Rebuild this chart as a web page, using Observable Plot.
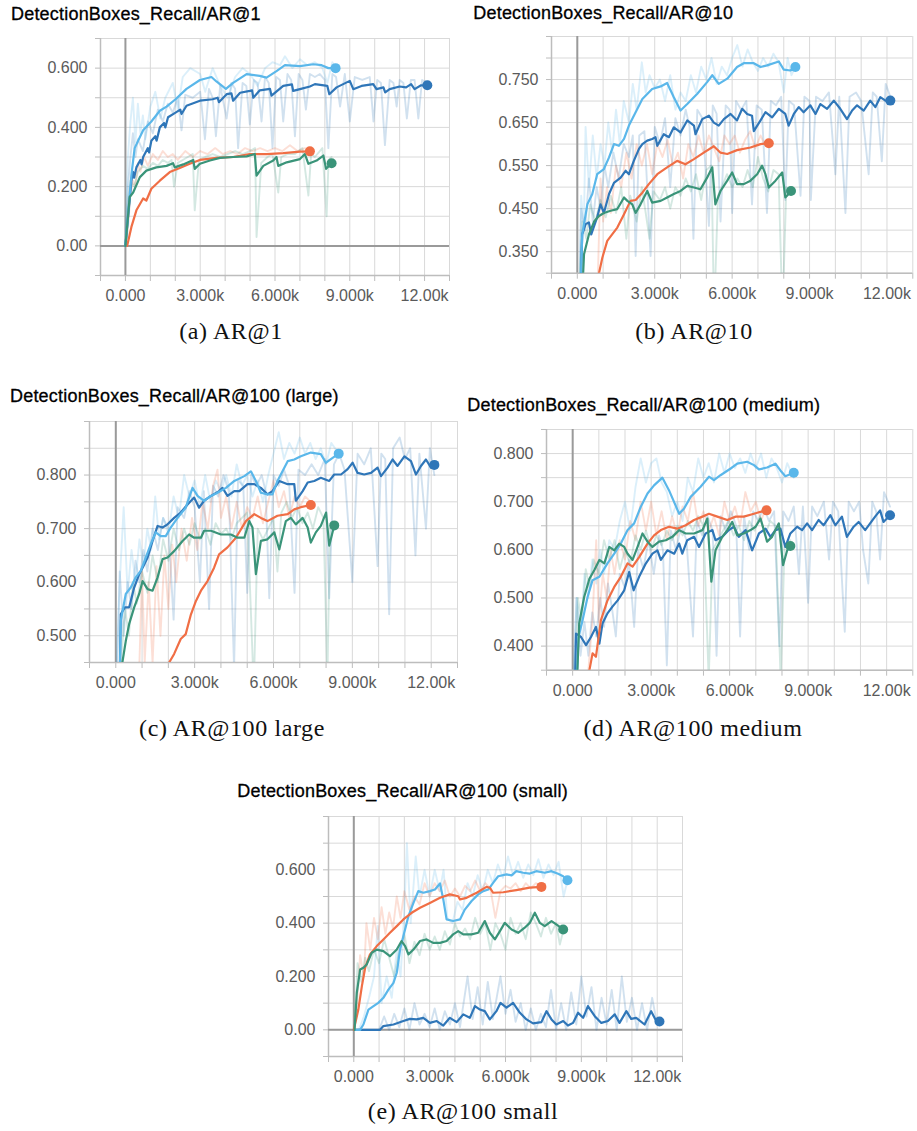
<!DOCTYPE html>
<html><head><meta charset="utf-8">
<script src="https://cdn.jsdelivr.net/npm/d3@7"></script>
<script src="https://cdn.jsdelivr.net/npm/@observablehq/plot@0.6"></script>
<style>
html,body{margin:0;padding:0;background:#fff}
body{width:917px;height:1131px;position:relative;overflow:hidden}
.title{position:absolute;font-family:"Liberation Sans",Arial,sans-serif;font-size:18px;letter-spacing:0.2px;color:#000;-webkit-text-stroke:0.3px #000;white-space:nowrap;line-height:18px}
.cap{position:absolute;font-family:"Liberation Serif","Times New Roman",serif;font-size:24px;letter-spacing:0.6px;color:#111;white-space:nowrap;line-height:24px;transform:translateX(-50%)}
</style></head><body>
<script>
// ---------- colours (one per run) ----------
const LIGHT = "#5ab7ea", DARK = "#2f76b8", ORANGE = "#f06e45", GREEN = "#3a9479";

// ---------- axes (x in thousands of steps) ----------
const xGrid = [-1,0,1,2,3,4,5,6,7,8,9,10,11,12,13];
const xLabelTicks = [0,3,6,9,12];
const xLabels = ["0.000","3.000k","6.000k","9.000k","12.00k"];

const aGrid = [-0.1,0,0.1,0.2,0.3,0.4,0.5,0.6,0.7];
const aYTicks = [0,0.2,0.4,0.6];
const aYLabels = ["0.00","0.200","0.400","0.600"];
const bGrid = [0.3,0.35,0.4,0.45,0.5,0.55,0.6,0.65,0.7,0.75,0.8,0.85];
const bYTicks = [0.35,0.45,0.55,0.65,0.75];
const bYLabels = ["0.350","0.450","0.550","0.650","0.750"];
const cGrid = [0.45,0.5,0.55,0.6,0.65,0.7,0.75,0.8,0.85,0.9];
const cYTicks = [0.5,0.6,0.7,0.8];
const cYLabels = ["0.500","0.600","0.700","0.800"];
const dGrid = [0.35,0.4,0.45,0.5,0.55,0.6,0.65,0.7,0.75,0.8,0.85];
const dYTicks = [0.4,0.5,0.6,0.7,0.8];
const dYLabels = ["0.400","0.500","0.600","0.700","0.800"];
const eGrid = [-0.1,0,0.1,0.2,0.3,0.4,0.5,0.6,0.7,0.8];
const eYTicks = [0,0.2,0.4,0.6];
const eYLabels = ["0.00","0.200","0.400","0.600"];

// ---------- (a) AR@1 ----------
const aLightSmooth = [[0,0],[0.24,0.24],[0.37,0.33],[0.71,0.39],[1.04,0.42],[1.38,0.456],[1.65,0.47],[2.01,0.495],[2.45,0.53],[2.99,0.56],[3.45,0.57],[3.65,0.555],[4.03,0.53],[4.32,0.55],[4.86,0.58],[5.39,0.574],[5.66,0.568],[6.06,0.59],[6.4,0.61],[7.0,0.607],[7.54,0.613],[7.87,0.61],[8.14,0.6],[8.43,0.6]];
const aDarkSmooth = [[0,0],[0.24,0.22],[0.3,0.25],[0.35,0.23],[0.44,0.265],[0.6,0.29],[0.65,0.275],[0.71,0.3],[0.9,0.33],[0.95,0.315],[1.04,0.355],[1.2,0.37],[1.25,0.355],[1.38,0.4],[1.55,0.415],[1.6,0.4],[1.71,0.434],[2.01,0.45],[2.2,0.46],[2.25,0.445],[2.45,0.473],[2.99,0.49],[3.5,0.495],[3.7,0.5],[3.75,0.485],[4.06,0.512],[4.25,0.515],[4.32,0.49],[4.6,0.517],[4.99,0.523],[5.08,0.525],[5.13,0.5],[5.39,0.525],[5.8,0.53],[5.86,0.507],[6.33,0.54],[6.68,0.545],[6.73,0.523],[7.0,0.529],[7.4,0.538],[7.6,0.546],[8.1,0.54],[8.18,0.512],[8.47,0.535],[9.0,0.557],[9.14,0.529],[9.47,0.54],[9.94,0.546],[10.07,0.529],[10.35,0.535],[10.42,0.518],[10.6,0.529],[11.0,0.538],[11.26,0.535],[11.46,0.546],[11.6,0.529],[11.86,0.542],[12.11,0.542]];
const aOrangeSmooth = [[0.07,0],[0.24,0.064],[0.44,0.12],[0.71,0.16],[0.84,0.153],[1.04,0.193],[1.38,0.22],[1.78,0.249],[2.18,0.263],[2.58,0.277],[2.99,0.29],[3.65,0.297],[4.32,0.3],[4.99,0.31],[5.66,0.31],[6.33,0.313],[7.0,0.318],[7.4,0.319]];
const aGreenSmooth = [[0,0],[0.17,0.165],[0.31,0.18],[0.58,0.232],[0.84,0.254],[1.24,0.265],[1.65,0.27],[1.91,0.279],[1.98,0.265],[2.32,0.275],[2.72,0.29],[2.78,0.26],[2.99,0.277],[3.39,0.288],[3.79,0.297],[4.32,0.3],[4.86,0.302],[5.19,0.31],[5.26,0.237],[5.53,0.27],[5.93,0.288],[6.06,0.3],[6.13,0.27],[6.47,0.282],[7.0,0.293],[7.2,0.31],[7.34,0.277],[7.67,0.288],[7.94,0.305],[8.05,0.26],[8.27,0.279]];
const aLightRaw = [[0,0],[0.1,0.3],[0.2,0.42],[0.3,0.5],[0.4,0.35],[0.5,0.48],[0.6,0.38],[0.7,0.44],[0.8,0.36],[1.0,0.47],[1.2,0.52],[1.4,0.43],[1.6,0.5],[1.9,0.55],[2.1,0.46],[2.3,0.57],[2.6,0.6],[3.0,0.58],[3.2,0.52],[3.5,0.6],[3.8,0.54],[4.1,0.5],[4.4,0.57],[4.7,0.6],[5.0,0.58],[5.3,0.54],[5.6,0.6],[5.9,0.62],[6.2,0.61],[6.4,0.64],[6.7,0.6],[7.0,0.63],[7.3,0.61],[7.6,0.62],[7.9,0.6],[8.1,0.55],[8.3,0.62],[8.43,0.6]];
const aDarkRaw = [[0,0],[0.1,0.2],[0.2,0.3],[0.3,0.38],[0.4,0.3],[0.5,0.36],[0.7,0.32],[0.9,0.42],[1.1,0.38],[1.3,0.46],[1.5,0.42],[1.7,0.48],[1.9,0.45],[2.1,0.5],[2.25,0.39],[2.4,0.51],[2.7,0.5],[3.0,0.52],[3.19,0.36],[3.35,0.53],[3.5,0.5],[3.63,0.37],[3.8,0.54],[4.06,0.43],[4.25,0.55],[4.4,0.53],[4.52,0.33],[4.7,0.55],[4.85,0.54],[4.99,0.41],[5.15,0.56],[5.3,0.55],[5.46,0.42],[5.6,0.57],[5.75,0.55],[5.9,0.33],[6.05,0.57],[6.2,0.56],[6.33,0.42],[6.5,0.58],[6.65,0.56],[6.8,0.37],[6.95,0.58],[7.1,0.56],[7.24,0.46],[7.4,0.58],[7.6,0.57],[7.8,0.58],[8.0,0.56],[8.14,0.33],[8.3,0.58],[8.45,0.57],[8.61,0.47],[8.8,0.58],[9.0,0.42],[9.2,0.57],[9.5,0.56],[9.8,0.57],[9.95,0.42],[10.1,0.56],[10.25,0.55],[10.41,0.34],[10.6,0.56],[10.75,0.55],[10.88,0.47],[11.0,0.56],[11.15,0.55],[11.29,0.43],[11.45,0.56],[11.6,0.56],[11.75,0.43],[11.9,0.56],[12.11,0.55]];
const aOrangeRaw = [[0.05,0],[0.2,0.17],[0.3,0.22],[0.4,0.2],[0.5,0.28],[0.6,0.25],[0.75,0.3],[0.9,0.27],[1.1,0.31],[1.3,0.29],[1.5,0.32],[1.7,0.3],[1.9,0.31],[2.1,0.29],[2.4,0.32],[2.7,0.3],[3.0,0.32],[3.3,0.31],[3.6,0.33],[3.9,0.31],[4.2,0.32],[4.5,0.31],[4.8,0.33],[5.1,0.32],[5.4,0.33],[5.7,0.32],[6.0,0.33],[6.3,0.32],[6.6,0.34],[6.9,0.32],[7.2,0.33],[7.4,0.32]];
const aGreenRaw = [[0,0],[0.1,0.15],[0.2,0.22],[0.35,0.2],[0.5,0.25],[0.7,0.27],[0.9,0.26],[1.1,0.28],[1.3,0.27],[1.5,0.29],[1.7,0.28],[1.85,0.29],[1.95,0.2],[2.1,0.28],[2.3,0.29],[2.5,0.3],[2.7,0.31],[2.78,0.12],[2.95,0.29],[3.2,0.3],[3.5,0.31],[3.8,0.3],[4.1,0.31],[4.4,0.32],[4.7,0.31],[5.0,0.32],[5.2,0.33],[5.26,0.03],[5.45,0.28],[5.7,0.3],[5.9,0.31],[6.13,0.18],[6.25,0.3],[6.5,0.31],[6.8,0.31],[7.1,0.33],[7.34,0.17],[7.45,0.31],[7.6,0.3],[7.9,0.33],[8.07,0.1],[8.15,0.29],[8.27,0.3]];

// ---------- (b) AR@10 ----------
const bLightSmooth = [[0,0],[0.19,0.39],[0.39,0.46],[0.58,0.484],[0.77,0.53],[1.03,0.542],[1.23,0.569],[1.42,0.6],[1.61,0.596],[1.81,0.612],[2.0,0.643],[2.26,0.674],[2.52,0.705],[2.9,0.728],[3.23,0.734],[3.48,0.742],[3.74,0.709],[4.0,0.678],[4.26,0.693],[4.65,0.717],[5.03,0.744],[5.23,0.76],[5.48,0.74],[5.81,0.752],[6.19,0.779],[6.45,0.788],[6.84,0.788],[7.1,0.779],[7.35,0.783],[7.81,0.792],[8.0,0.773],[8.26,0.771],[8.45,0.779]];
const bDarkSmooth = [[0,0],[0.19,0.39],[0.32,0.414],[0.45,0.418],[0.54,0.39],[0.77,0.43],[0.9,0.46],[1.03,0.44],[1.23,0.484],[1.42,0.51],[1.68,0.522],[1.87,0.538],[2.0,0.53],[2.19,0.561],[2.39,0.589],[2.52,0.6],[2.71,0.608],[2.9,0.612],[3.03,0.616],[3.1,0.596],[3.35,0.623],[3.55,0.616],[3.74,0.639],[4.0,0.627],[4.26,0.655],[4.52,0.643],[4.58,0.623],[4.84,0.658],[5.1,0.666],[5.29,0.65],[5.48,0.643],[5.68,0.658],[5.94,0.67],[6.19,0.655],[6.39,0.682],[6.58,0.67],[6.77,0.666],[6.84,0.63],[7.1,0.655],[7.29,0.674],[7.55,0.662],[7.81,0.682],[8.06,0.67],[8.19,0.643],[8.39,0.67],[8.58,0.686],[8.77,0.674],[9.03,0.69],[9.23,0.67],[9.42,0.693],[9.68,0.682],[9.94,0.701],[10.19,0.682],[10.45,0.658],[10.65,0.678],[10.84,0.69],[11.1,0.678],[11.35,0.701],[11.55,0.686],[11.74,0.709],[11.94,0.701],[12.13,0.701]];
const bOrangeSmooth = [[0.7,0.27],[0.84,0.3],[0.97,0.336],[1.16,0.375],[1.35,0.39],[1.55,0.406],[1.81,0.437],[2.06,0.468],[2.26,0.47],[2.52,0.487],[2.77,0.507],[3.1,0.53],[3.48,0.546],[3.87,0.561],[4.19,0.553],[4.52,0.565],[4.9,0.58],[5.29,0.595],[5.55,0.58],[5.81,0.577],[6.19,0.586],[6.71,0.592],[7.1,0.6],[7.42,0.602]];
const bGreenSmooth = [[0,0],[0.26,0.344],[0.45,0.39],[0.65,0.42],[0.84,0.433],[1.03,0.44],[1.29,0.445],[1.55,0.449],[1.81,0.476],[1.94,0.468],[2.13,0.46],[2.26,0.44],[2.45,0.46],[2.71,0.491],[2.9,0.464],[3.23,0.468],[3.48,0.476],[3.74,0.484],[4.0,0.491],[4.26,0.503],[4.52,0.499],[4.77,0.495],[5.03,0.522],[5.23,0.546],[5.35,0.46],[5.55,0.491],[5.81,0.515],[6.0,0.534],[6.19,0.507],[6.45,0.507],[6.71,0.515],[6.97,0.53],[7.16,0.55],[7.29,0.53],[7.42,0.499],[7.68,0.515],[7.94,0.534],[8.06,0.476],[8.19,0.484],[8.28,0.491]];
const bLightRaw = [[0,0],[0.15,0.48],[0.25,0.4],[0.32,0.64],[0.45,0.5],[0.6,0.62],[0.75,0.52],[0.9,0.6],[1.05,0.55],[1.2,0.65],[1.35,0.58],[1.5,0.68],[1.65,0.6],[1.8,0.7],[2.0,0.65],[2.15,0.74],[2.3,0.68],[2.5,0.79],[2.65,0.72],[2.8,0.76],[3.0,0.73],[3.2,0.75],[3.4,0.7],[3.6,0.76],[3.8,0.68],[4.0,0.72],[4.2,0.7],[4.4,0.76],[4.6,0.72],[4.8,0.78],[5.0,0.75],[5.2,0.8],[5.4,0.74],[5.6,0.78],[5.8,0.76],[6.0,0.8],[6.2,0.83],[6.4,0.78],[6.6,0.82],[6.8,0.79],[7.0,0.77],[7.2,0.8],[7.4,0.78],[7.6,0.81],[7.8,0.79],[8.0,0.72],[8.15,0.8],[8.3,0.76],[8.45,0.78]];
const bDarkRaw = [[0,0],[0.15,0.45],[0.3,0.4],[0.45,0.52],[0.6,0.42],[0.75,0.5],[0.9,0.45],[1.05,0.55],[1.2,0.5],[1.4,0.58],[1.6,0.52],[1.8,0.6],[2.0,0.57],[2.15,0.62],[2.26,0.34],[2.4,0.62],[2.6,0.63],[2.84,0.34],[3.0,0.64],[3.2,0.6],[3.4,0.66],[3.6,0.5],[3.8,0.66],[4.0,0.62],[4.2,0.68],[4.35,0.64],[4.5,0.38],[4.65,0.68],[4.85,0.66],[5.1,0.41],[5.25,0.69],[5.4,0.67],[5.55,0.42],[5.75,0.69],[5.9,0.68],[6.0,0.44],[6.15,0.7],[6.35,0.68],[6.55,0.7],[6.77,0.46],[6.95,0.69],[7.15,0.68],[7.35,0.44],[7.5,0.7],[7.7,0.69],[7.9,0.71],[8.06,0.47],[8.2,0.7],[8.4,0.69],[8.65,0.48],[8.8,0.71],[9.0,0.7],[9.05,0.47],[9.25,0.71],[9.5,0.7],[9.75,0.72],[10.0,0.53],[10.15,0.71],[10.39,0.44],[10.55,0.71],[10.8,0.72],[11.0,0.7],[11.29,0.53],[11.45,0.72],[11.6,0.71],[11.8,0.56],[11.95,0.74],[12.13,0.71]];
const bOrangeRaw = [[0.8,0.3],[0.9,0.52],[1.0,0.42],[1.15,0.5],[1.3,0.44],[1.5,0.55],[1.7,0.5],[1.9,0.58],[2.1,0.52],[2.3,0.6],[2.5,0.55],[2.7,0.6],[2.9,0.53],[3.1,0.6],[3.3,0.57],[3.5,0.61],[3.7,0.55],[3.9,0.58],[4.1,0.52],[4.3,0.6],[4.5,0.57],[4.7,0.62],[4.9,0.58],[5.1,0.62],[5.3,0.59],[5.5,0.56],[5.7,0.62],[5.9,0.6],[6.1,0.62],[6.3,0.58],[6.5,0.61],[6.7,0.63],[6.9,0.59],[7.1,0.62],[7.25,0.6],[7.42,0.6]];
const bGreenRaw = [[0.1,0.3],[0.2,0.42],[0.35,0.38],[0.5,0.46],[0.7,0.42],[0.9,0.47],[1.1,0.43],[1.3,0.48],[1.5,0.44],[1.7,0.5],[1.9,0.38],[2.05,0.48],[2.3,0.42],[2.5,0.5],[2.8,0.38],[2.95,0.49],[3.2,0.47],[3.4,0.5],[3.6,0.45],[3.8,0.5],[4.0,0.48],[4.2,0.52],[4.4,0.49],[4.6,0.53],[4.8,0.47],[5.0,0.54],[5.2,0.55],[5.3,0.2],[5.45,0.48],[5.6,0.5],[5.8,0.53],[6.0,0.5],[6.2,0.52],[6.4,0.5],[6.6,0.54],[6.8,0.5],[7.0,0.57],[7.2,0.52],[7.4,0.49],[7.6,0.54],[7.8,0.53],[7.95,0.2],[8.1,0.5],[8.28,0.49]];

// ---------- (c) AR@100 large ----------
const cLightSmooth = [[0,0],[0.19,0.528],[0.38,0.578],[0.57,0.59],[0.76,0.609],[0.95,0.621],[1.14,0.646],[1.33,0.671],[1.52,0.693],[1.71,0.686],[1.9,0.686],[2.09,0.702],[2.35,0.72],[2.66,0.739],[2.92,0.776],[3.11,0.761],[3.36,0.752],[3.62,0.761],[3.87,0.767],[4.19,0.776],[4.51,0.789],[4.89,0.798],[5.14,0.807],[5.33,0.789],[5.52,0.767],[5.77,0.764],[5.96,0.764],[6.15,0.789],[6.54,0.826],[6.79,0.829],[7.04,0.835],[7.42,0.842],[7.8,0.839],[7.99,0.823],[8.25,0.832],[8.48,0.84]];
const cDarkSmooth = [[0,0],[0.19,0.54],[0.34,0.553],[0.51,0.553],[0.7,0.59],[0.89,0.615],[1.02,0.627],[1.21,0.646],[1.4,0.677],[1.59,0.705],[1.78,0.702],[1.97,0.708],[2.22,0.72],[2.47,0.73],[2.73,0.745],[2.98,0.758],[3.17,0.739],[3.36,0.752],[3.62,0.761],[3.93,0.77],[4.06,0.776],[4.25,0.761],[4.51,0.77],[4.7,0.77],[5.01,0.783],[5.27,0.783],[5.52,0.776],[5.77,0.764],[5.96,0.77],[6.22,0.789],[6.54,0.783],[6.79,0.783],[6.85,0.752],[7.11,0.77],[7.3,0.786],[7.55,0.789],[7.8,0.795],[8.12,0.789],[8.31,0.801],[8.57,0.801],[8.82,0.811],[9.01,0.823],[9.2,0.804],[9.45,0.801],[9.71,0.804],[9.96,0.814],[10.09,0.798],[10.34,0.814],[10.53,0.829],[10.72,0.817],[10.98,0.835],[11.23,0.826],[11.42,0.801],[11.61,0.817],[11.8,0.829],[11.99,0.814],[12.12,0.819]];
const cOrangeSmooth = [[1.9,0.43],[2.03,0.45],[2.22,0.466],[2.47,0.494],[2.66,0.503],[2.86,0.54],[3.05,0.565],[3.24,0.584],[3.49,0.602],[3.74,0.627],[3.93,0.652],[4.25,0.665],[4.57,0.683],[4.95,0.714],[5.27,0.727],[5.52,0.72],[5.77,0.714],[6.15,0.724],[6.54,0.727],[6.79,0.736],[7.04,0.74],[7.42,0.744]];
const cGreenSmooth = [[0.1,0.2],[0.25,0.45],[0.38,0.49],[0.51,0.522],[0.7,0.553],[0.89,0.578],[1.02,0.602],[1.21,0.587],[1.4,0.584],[1.59,0.609],[1.78,0.643],[1.97,0.646],[2.22,0.658],[2.54,0.677],[2.79,0.689],[2.98,0.683],[3.24,0.683],[3.36,0.696],[3.62,0.696],[4.0,0.689],[4.38,0.689],[4.63,0.683],[4.89,0.683],[5.08,0.714],[5.2,0.702],[5.33,0.615],[5.52,0.677],[5.77,0.68],[6.03,0.693],[6.22,0.661],[6.47,0.714],[6.66,0.72],[6.85,0.708],[7.11,0.72],[7.3,0.702],[7.42,0.674],[7.61,0.693],[7.8,0.705],[8.0,0.73],[8.12,0.668],[8.31,0.706]];
const cLightRaw = [[0.05,0.45],[0.15,0.6],[0.3,0.74],[0.45,0.58],[0.6,0.66],[0.75,0.6],[0.9,0.68],[1.05,0.63],[1.2,0.7],[1.35,0.66],[1.5,0.76],[1.65,0.68],[1.8,0.72],[2.0,0.69],[2.2,0.76],[2.4,0.72],[2.6,0.8],[2.8,0.76],[3.0,0.79],[3.2,0.74],[3.4,0.8],[3.6,0.75],[3.8,0.79],[4.0,0.77],[4.2,0.8],[4.4,0.76],[4.6,0.82],[4.8,0.78],[5.0,0.8],[5.2,0.76],[5.4,0.79],[5.6,0.75],[5.8,0.8],[6.0,0.84],[6.2,0.88],[6.4,0.83],[6.6,0.86],[6.8,0.84],[7.0,0.87],[7.2,0.84],[7.4,0.86],[7.6,0.83],[7.8,0.85],[8.0,0.82],[8.2,0.86],[8.48,0.84]];
const cDarkRaw = [[0.05,0.45],[0.15,0.62],[0.3,0.5],[0.45,0.6],[0.6,0.55],[0.75,0.64],[0.9,0.6],[1.05,0.66],[1.2,0.62],[1.4,0.7],[1.6,0.66],[1.8,0.72],[2.0,0.7],[2.2,0.53],[2.35,0.74],[2.6,0.72],[2.8,0.77],[3.0,0.74],[3.2,0.6],[3.35,0.77],[3.55,0.55],[3.7,0.78],[3.9,0.76],[4.1,0.8],[4.3,0.77],[4.5,0.44],[4.65,0.79],[4.85,0.78],[5.0,0.58],[5.15,0.8],[5.35,0.78],[5.55,0.8],[5.7,0.77],[5.84,0.57],[6.0,0.8],[6.2,0.78],[6.4,0.81],[6.6,0.78],[6.8,0.58],[6.95,0.81],[7.2,0.8],[7.45,0.82],[7.7,0.8],[7.95,0.83],[8.12,0.57],[8.3,0.82],[8.5,0.84],[8.7,0.81],[9.0,0.6],[9.2,0.84],[9.45,0.82],[9.7,0.85],[9.96,0.63],[10.1,0.84],[10.25,0.83],[10.4,0.54],[10.55,0.85],[10.8,0.87],[11.0,0.83],[11.2,0.85],[11.4,0.65],[11.55,0.84],[11.8,0.7],[11.95,0.85],[12.12,0.8]];
const cOrangeRaw = [[0.9,0.45],[1.0,0.62],[1.1,0.45],[1.25,0.6],[1.4,0.45],[1.55,0.63],[1.7,0.5],[1.85,0.65],[2.0,0.55],[2.15,0.67],[2.3,0.6],[2.5,0.7],[2.7,0.64],[2.9,0.72],[3.1,0.66],[3.3,0.75],[3.5,0.7],[3.7,0.78],[3.87,0.81],[4.0,0.72],[4.2,0.76],[4.4,0.7],[4.6,0.75],[4.8,0.7],[5.0,0.74],[5.2,0.72],[5.4,0.76],[5.6,0.71],[5.8,0.75],[6.0,0.79],[6.2,0.74],[6.4,0.77],[6.6,0.72],[6.8,0.76],[7.0,0.74],[7.2,0.76],[7.42,0.75]];
const cGreenRaw = [[0.2,0.45],[0.35,0.55],[0.5,0.5],[0.65,0.6],[0.8,0.56],[1.0,0.62],[1.2,0.58],[1.4,0.65],[1.6,0.6],[1.8,0.68],[2.0,0.64],[2.2,0.7],[2.4,0.66],[2.6,0.7],[2.8,0.67],[3.0,0.71],[3.2,0.68],[3.4,0.7],[3.6,0.67],[3.8,0.71],[4.0,0.69],[4.2,0.7],[4.4,0.68],[4.6,0.71],[4.8,0.72],[5.0,0.73],[5.25,0.4],[5.4,0.7],[5.6,0.68],[5.8,0.7],[6.0,0.72],[6.15,0.62],[6.3,0.73],[6.5,0.75],[6.7,0.72],[6.9,0.74],[7.1,0.71],[7.3,0.73],[7.5,0.7],[7.7,0.74],[7.9,0.72],[8.05,0.42],[8.15,0.7],[8.31,0.71]];

// ---------- (d) AR@100 medium ----------
const dLightSmooth = [[0,0.1],[0.22,0.419],[0.38,0.454],[0.57,0.502],[0.76,0.537],[1.02,0.544],[1.33,0.572],[1.59,0.592],[1.84,0.613],[2.1,0.641],[2.35,0.655],[2.6,0.689],[2.86,0.717],[3.11,0.734],[3.43,0.75],[3.68,0.724],[4.07,0.675],[4.26,0.686],[4.51,0.71],[4.89,0.731],[5.21,0.752],[5.4,0.745],[5.65,0.755],[6.04,0.769],[6.29,0.779],[6.67,0.783],[6.93,0.776],[7.12,0.767],[7.43,0.771],[7.75,0.779],[7.94,0.765],[8.13,0.753],[8.45,0.76]];
const dDarkSmooth = [[0,0.1],[0.13,0.426],[0.32,0.419],[0.51,0.402],[0.7,0.419],[0.89,0.44],[1.02,0.405],[1.14,0.447],[1.33,0.468],[1.52,0.482],[1.72,0.495],[1.97,0.516],[2.16,0.554],[2.33,0.516],[2.54,0.544],[2.8,0.572],[3.05,0.592],[3.24,0.599],[3.37,0.579],[3.62,0.599],[3.88,0.592],[4.07,0.613],[4.19,0.592],[4.38,0.62],[4.64,0.627],[4.83,0.606],[5.08,0.634],[5.34,0.641],[5.46,0.62],[5.72,0.627],[5.97,0.641],[6.16,0.648],[6.35,0.627],[6.61,0.641],[6.86,0.599],[7.12,0.634],[7.37,0.644],[7.56,0.627],[7.75,0.641],[7.94,0.644],[8.13,0.606],[8.32,0.634],[8.58,0.648],[8.77,0.641],[8.96,0.655],[9.15,0.641],[9.4,0.662],[9.59,0.651],[9.85,0.672],[10.04,0.651],[10.29,0.669],[10.48,0.627],[10.74,0.648],[10.93,0.658],[11.18,0.641],[11.37,0.655],[11.56,0.669],[11.75,0.682],[11.88,0.658],[12.13,0.672]];
const dOrangeSmooth = [[0.55,0.32],[0.64,0.35],[0.76,0.385],[0.89,0.378],[1.08,0.454],[1.33,0.495],[1.59,0.523],[1.84,0.544],[2.1,0.572],[2.29,0.565],[2.54,0.585],[2.86,0.613],[3.11,0.63],[3.37,0.641],[3.68,0.648],[4.0,0.644],[4.32,0.651],[4.64,0.662],[4.96,0.669],[5.21,0.675],[5.53,0.669],[5.91,0.662],[6.23,0.669],[6.54,0.669],[6.93,0.675],[7.18,0.679],[7.41,0.682]];
const dGreenSmooth = [[0,0.1],[0.25,0.447],[0.44,0.502],[0.64,0.54],[0.83,0.558],[1.02,0.579],[1.21,0.572],[1.4,0.606],[1.59,0.599],[1.78,0.613],[1.97,0.606],[2.1,0.592],[2.29,0.579],[2.48,0.606],[2.67,0.634],[2.86,0.617],[3.05,0.606],[3.3,0.617],[3.56,0.62],[3.81,0.627],[4.07,0.641],[4.32,0.634],[4.64,0.634],[4.96,0.641],[5.15,0.665],[5.3,0.534],[5.46,0.599],[5.72,0.627],[5.91,0.641],[6.1,0.658],[6.29,0.63],[6.54,0.634],[6.8,0.641],[6.99,0.648],[7.18,0.665],[7.31,0.641],[7.43,0.617],[7.62,0.627],[7.88,0.655],[8.04,0.568],[8.2,0.599],[8.32,0.608]];
const dLightRaw = [[0.05,0.35],[0.15,0.5],[0.3,0.42],[0.45,0.55],[0.6,0.5],[0.75,0.58],[0.9,0.53],[1.05,0.6],[1.2,0.55],[1.4,0.62],[1.6,0.6],[1.8,0.66],[2.0,0.7],[2.2,0.64],[2.4,0.73],[2.6,0.79],[2.8,0.74],[3.0,0.78],[3.2,0.79],[3.4,0.74],[3.6,0.72],[3.8,0.67],[4.0,0.7],[4.2,0.66],[4.4,0.75],[4.6,0.72],[4.8,0.79],[5.0,0.75],[5.2,0.78],[5.4,0.74],[5.6,0.8],[5.8,0.76],[6.0,0.8],[6.2,0.77],[6.4,0.79],[6.6,0.76],[6.8,0.8],[7.0,0.77],[7.2,0.8],[7.4,0.75],[7.6,0.79],[7.8,0.77],[8.0,0.74],[8.2,0.78],[8.45,0.75]];
const dDarkRaw = [[0.05,0.35],[0.15,0.5],[0.3,0.38],[0.45,0.45],[0.6,0.38],[0.75,0.47],[0.9,0.42],[1.05,0.5],[1.2,0.44],[1.35,0.53],[1.5,0.48],[1.65,0.42],[1.8,0.55],[2.0,0.52],[2.15,0.58],[2.35,0.44],[2.5,0.6],[2.7,0.56],[2.9,0.62],[3.1,0.55],[3.3,0.63],[3.45,0.6],[3.6,0.36],[3.75,0.64],[3.95,0.6],[4.15,0.65],[4.35,0.62],[4.6,0.42],[4.75,0.66],[4.95,0.63],[5.15,0.67],[5.35,0.64],[5.5,0.38],[5.65,0.67],[5.85,0.64],[6.05,0.68],[6.25,0.65],[6.4,0.42],[6.55,0.67],[6.75,0.6],[6.9,0.68],[7.1,0.66],[7.3,0.69],[7.5,0.66],[7.7,0.68],[7.9,0.4],[8.05,0.68],[8.25,0.66],[8.45,0.69],[8.65,0.55],[8.8,0.69],[9.0,0.49],[9.15,0.69],[9.35,0.67],[9.6,0.7],[9.8,0.58],[9.95,0.7],[10.15,0.68],[10.4,0.43],[10.55,0.7],[10.75,0.68],[10.95,0.7],[11.1,0.6],[11.3,0.53],[11.45,0.7],[11.6,0.68],[11.75,0.58],[11.9,0.72],[12.13,0.69]];
const dOrangeRaw = [[0.6,0.35],[0.75,0.45],[0.9,0.62],[1.0,0.45],[1.15,0.55],[1.3,0.5],[1.45,0.6],[1.6,0.55],[1.8,0.62],[2.0,0.58],[2.2,0.66],[2.4,0.62],[2.6,0.7],[2.8,0.64],[3.0,0.7],[3.2,0.63],[3.4,0.68],[3.6,0.62],[3.8,0.67],[4.0,0.63],[4.2,0.69],[4.4,0.66],[4.6,0.72],[4.8,0.65],[5.0,0.68],[5.2,0.64],[5.4,0.67],[5.6,0.63],[5.8,0.7],[6.0,0.66],[6.2,0.69],[6.4,0.65],[6.6,0.72],[6.8,0.68],[7.0,0.7],[7.2,0.66],[7.41,0.69]];
const dGreenRaw = [[0.1,0.35],[0.2,0.5],[0.35,0.45],[0.5,0.56],[0.65,0.52],[0.8,0.58],[1.0,0.55],[1.2,0.62],[1.4,0.58],[1.6,0.62],[1.8,0.56],[2.0,0.6],[2.2,0.57],[2.4,0.63],[2.6,0.6],[2.8,0.64],[3.0,0.6],[3.2,0.63],[3.4,0.61],[3.6,0.64],[3.8,0.62],[4.0,0.65],[4.2,0.63],[4.4,0.66],[4.6,0.64],[4.8,0.67],[5.0,0.65],[5.2,0.33],[5.35,0.6],[5.55,0.62],[5.75,0.64],[5.95,0.66],[6.15,0.63],[6.35,0.65],[6.55,0.62],[6.75,0.66],[6.95,0.64],[7.15,0.67],[7.35,0.63],[7.55,0.66],[7.75,0.65],[7.95,0.33],[8.1,0.61],[8.32,0.62]];

// ---------- (e) AR@100 small ----------
const eLightSmooth = [[0,0],[0.25,0],[0.38,0.02],[0.58,0.076],[0.78,0.089],[0.97,0.101],[1.17,0.12],[1.37,0.151],[1.57,0.176],[1.7,0.214],[1.83,0.301],[1.96,0.351],[2.16,0.426],[2.36,0.476],[2.55,0.52],[2.75,0.514],[3.01,0.52],[3.21,0.526],[3.41,0.549],[3.54,0.489],[3.67,0.414],[3.93,0.408],[4.2,0.414],[4.39,0.451],[4.66,0.483],[4.92,0.508],[5.12,0.52],[5.32,0.526],[5.51,0.551],[5.71,0.576],[6.04,0.583],[6.24,0.579],[6.43,0.595],[6.7,0.589],[6.96,0.586],[7.22,0.595],[7.55,0.589],[7.82,0.595],[8.08,0.585],[8.28,0.576],[8.45,0.561]];
const eDarkSmooth = [[0,0],[1.04,0],[1.17,0.014],[1.57,0.02],[1.96,0.033],[2.22,0.041],[2.49,0.039],[2.75,0.045],[3.01,0.026],[3.28,0.033],[3.54,0.016],[3.8,0.045],[4.07,0.029],[4.33,0.058],[4.59,0.045],[4.79,0.089],[4.99,0.076],[5.18,0.07],[5.38,0.039],[5.64,0.07],[5.8,0.101],[6.04,0.083],[6.3,0.101],[6.57,0.064],[6.83,0.039],[7.09,0.024],[7.42,0.029],[7.62,0.07],[7.82,0.039],[8.01,0.02],[8.28,0.033],[8.47,0.016],[8.67,0.026],[8.87,0.064],[9.07,0.045],[9.26,0.089],[9.53,0.051],[9.79,0.026],[10.05,0.033],[10.32,0.058],[10.51,0.026],[10.78,0.07],[10.97,0.041],[11.17,0.045],[11.5,0.02],[11.76,0.07],[11.96,0.033],[12.09,0.031]];
const eOrangeSmooth = [[0,0],[0.18,0.076],[0.32,0.164],[0.45,0.233],[0.64,0.283],[0.91,0.314],[1.17,0.339],[1.43,0.364],[1.7,0.389],[1.96,0.414],[2.29,0.439],[2.62,0.458],[3.01,0.476],[3.41,0.495],[3.8,0.508],[4.13,0.501],[4.2,0.489],[4.46,0.495],[4.86,0.514],[5.25,0.536],[5.38,0.533],[5.51,0.514],[5.91,0.516],[6.43,0.524],[6.96,0.533],[7.42,0.536]];
const eGreenSmooth = [[0.03,0],[0.12,0.139],[0.25,0.226],[0.38,0.233],[0.51,0.245],[0.71,0.289],[0.91,0.301],[1.17,0.295],[1.43,0.276],[1.7,0.301],[1.89,0.333],[2.03,0.314],[2.16,0.283],[2.36,0.301],[2.62,0.333],[2.88,0.339],[3.14,0.326],[3.41,0.326],[3.67,0.333],[3.93,0.358],[4.13,0.37],[4.33,0.358],[4.66,0.358],[4.92,0.364],[5.18,0.408],[5.38,0.364],[5.58,0.339],[5.78,0.37],[5.97,0.401],[6.24,0.376],[6.5,0.364],[6.76,0.383],[6.96,0.401],[7.16,0.439],[7.36,0.401],[7.55,0.389],[7.82,0.408],[8.08,0.391],[8.28,0.376]];
const eLightRaw = [[0.2,0],[0.4,0.05],[0.6,0.12],[0.8,0.2],[0.95,0.39],[1.1,0.1],[1.3,0.2],[1.5,0.12],[1.7,0.3],[1.85,0.2],[2.0,0.45],[2.1,0.7],[2.25,0.4],[2.45,0.65],[2.6,0.5],[2.8,0.6],[3.0,0.5],[3.2,0.6],[3.4,0.52],[3.55,0.6],[3.7,0.42],[3.9,0.4],[4.1,0.48],[4.3,0.45],[4.5,0.55],[4.7,0.5],[4.9,0.58],[5.1,0.52],[5.3,0.6],[5.5,0.55],[5.7,0.62],[5.9,0.57],[6.1,0.65],[6.3,0.58],[6.5,0.63],[6.7,0.57],[6.9,0.62],[7.1,0.58],[7.3,0.64],[7.5,0.57],[7.7,0.62],[7.9,0.58],[8.1,0.63],[8.3,0.5],[8.45,0.56]];
const eDarkRaw = [[0,0],[1.0,0],[1.2,0.05],[1.4,0],[1.6,0.06],[1.8,0.01],[2.0,0.08],[2.2,0],[2.4,0.1],[2.6,0.02],[2.8,0.06],[3.0,0.01],[3.2,0.08],[3.4,0],[3.6,0.07],[3.8,0.02],[4.0,0.1],[4.2,0.01],[4.5,0.2],[4.7,0.04],[4.9,0.16],[5.1,0.02],[5.3,0.18],[5.5,0.04],[5.8,0.2],[6.0,0.06],[6.2,0.15],[6.4,0.03],[6.6,0.1],[6.8,0],[7.0,0.08],[7.2,0],[7.4,0.06],[7.6,0.01],[7.8,0.15],[8.0,0],[8.2,0.1],[8.4,0],[8.6,0.14],[8.8,0.02],[9.0,0.2],[9.2,0.05],[9.4,0.16],[9.6,0],[9.8,0.12],[10.0,0.02],[10.2,0.15],[10.4,0],[10.6,0.2],[10.8,0.03],[11.0,0.12],[11.2,0],[11.4,0.1],[11.6,0],[11.8,0.12],[12.0,0.02],[12.09,0.03]];
const eOrangeRaw = [[0.1,0.05],[0.25,0.28],[0.4,0.2],[0.5,0.4],[0.65,0.3],[0.8,0.42],[0.95,0.34],[1.1,0.46],[1.25,0.36],[1.4,0.44],[1.55,0.38],[1.7,0.5],[1.85,0.42],[2.0,0.52],[2.2,0.45],[2.4,0.5],[2.6,0.47],[2.8,0.55],[3.0,0.5],[3.2,0.55],[3.4,0.52],[3.6,0.56],[3.8,0.5],[4.0,0.53],[4.2,0.5],[4.4,0.54],[4.6,0.52],[4.8,0.56],[5.0,0.52],[5.2,0.55],[5.4,0.53],[5.6,0.42],[5.8,0.52],[6.0,0.54],[6.2,0.53],[6.4,0.55],[6.6,0.52],[6.8,0.55],[7.0,0.53],[7.2,0.55],[7.42,0.54]];
const eGreenRaw = [[0.05,0.05],[0.15,0.25],[0.3,0.18],[0.45,0.27],[0.6,0.22],[0.8,0.3],[1.0,0.25],[1.2,0.34],[1.4,0.27],[1.6,0.2],[1.8,0.3],[2.0,0.36],[2.2,0.25],[2.4,0.33],[2.6,0.28],[2.8,0.36],[3.0,0.3],[3.2,0.35],[3.4,0.3],[3.6,0.37],[3.8,0.32],[4.0,0.4],[4.2,0.35],[4.4,0.38],[4.6,0.34],[4.8,0.42],[5.0,0.36],[5.2,0.4],[5.4,0.3],[5.6,0.4],[5.8,0.36],[6.0,0.3],[6.2,0.42],[6.4,0.36],[6.6,0.4],[6.8,0.34],[7.0,0.44],[7.2,0.4],[7.4,0.35],[7.6,0.42],[7.8,0.36],[8.0,0.4],[8.15,0.32],[8.28,0.37]];

// ---------- titles / captions ----------
const titles = ["DetectionBoxes_Recall/AR@1","DetectionBoxes_Recall/AR@10","DetectionBoxes_Recall/AR@100 (large)","DetectionBoxes_Recall/AR@100 (medium)","DetectionBoxes_Recall/AR@100 (small)"];
const captions = ["(a) AR@1","(b) AR@10","(c) AR@100 large","(d) AR@100 medium","(e) AR@100 small"];

// ---------- layout (page pixels) ----------
const panels = [
  {fl:100, fr:449, ft:38, fb:275, grid:aGrid, yTicks:aYTicks, yLabels:aYLabels, title:[11,5.2], cap:[231,319],
   series:[[DARK,aDarkRaw,aDarkSmooth],[LIGHT,aLightRaw,aLightSmooth],[ORANGE,aOrangeRaw,aOrangeSmooth],[GREEN,aGreenRaw,aGreenSmooth]]},
  {fl:550.7, fr:912, ft:36, fb:272.7, grid:bGrid, yTicks:bYTicks, yLabels:bYLabels, title:[473.3,3.5], cap:[694,319],
   series:[[DARK,bDarkRaw,bDarkSmooth],[LIGHT,bLightRaw,bLightSmooth],[ORANGE,bOrangeRaw,bOrangeSmooth],[GREEN,bGreenRaw,bGreenSmooth]]},
  {fl:88.7, fr:456.7, ft:420.7, fb:661.7, grid:cGrid, yTicks:cYTicks, yLabels:cYLabels, title:[10,387.2], cap:[232,715.5],
   series:[[DARK,cDarkRaw,cDarkSmooth],[LIGHT,cLightRaw,cLightSmooth],[ORANGE,cOrangeRaw,cOrangeSmooth],[GREEN,cGreenRaw,cGreenSmooth]]},
  {fl:545.7, fr:912, ft:429.3, fb:670, grid:dGrid, yTicks:dYTicks, yLabels:dYLabels, title:[467.3,396.2], cap:[693,715.5],
   series:[[DARK,dDarkRaw,dDarkSmooth],[LIGHT,dLightRaw,dLightSmooth],[ORANGE,dOrangeRaw,dOrangeSmooth],[GREEN,dGreenRaw,dGreenSmooth]]},
  {fl:328.3, fr:682.3, ft:815.7, fb:1055.7, grid:eGrid, yTicks:eYTicks, yLabels:eYLabels, title:[237.3,782.2], cap:[463,1098.5],
   series:[[DARK,eDarkRaw,eDarkSmooth],[LIGHT,eLightRaw,eLightSmooth],[ORANGE,eOrangeRaw,eOrangeSmooth],[GREEN,eGreenRaw,eGreenSmooth]]}
];

const lab = (ticks, labels) => d => { const i = ticks.findIndex(t => Math.abs(t - d) < 1e-6); return i < 0 ? "" : labels[i]; };
const X = d => d[0], Y = d => d[1];

panels.forEach((p, k) => {
  const ML = 100, MR = 4, MT = 8, MB = 40;
  const w = p.fr - p.fl, h = p.fb - p.ft;
  const y0 = p.grid[0], y1 = p.grid[p.grid.length - 1];
  const marks = [
    Plot.gridX({ticks: xGrid, stroke: "#d9d9d9", strokeOpacity: 1, strokeWidth: 1}),
    Plot.gridY({ticks: p.grid, stroke: "#d9d9d9", strokeOpacity: 1, strokeWidth: 1}),
    Plot.ruleX([xGrid[0]], {stroke: "#bdbdbd", strokeWidth: 1.5}),
    Plot.ruleY([y0], {stroke: "#bdbdbd", strokeWidth: 1.5}),
    Plot.ruleX([0], {stroke: "#9a9a9a", strokeWidth: 2})
  ];
  if (y0 < 0) marks.push(Plot.ruleY([0], {stroke: "#9a9a9a", strokeWidth: 2}));
  marks.push(
    Plot.axisX({ticks: xGrid, tickSize: 6, tickFormat: () => "", stroke: "#bdbdbd", label: null}),
    Plot.axisX({ticks: xLabelTicks, tickSize: 0, tickPadding: 14, tickFormat: lab(xLabelTicks, xLabels), fill: "#5a5a5a", fontSize: 16, label: null}),
    Plot.axisY({ticks: p.grid, tickSize: 5, tickFormat: () => "", stroke: "#bdbdbd", label: null}),
    Plot.axisY({ticks: p.yTicks, tickSize: 0, tickPadding: 13, tickFormat: lab(p.yTicks, p.yLabels), fill: "#5a5a5a", fontSize: 16, label: null})
  );
  p.series.forEach(([c, raw]) => marks.push(Plot.line(raw, {x: X, y: Y, stroke: c, strokeOpacity: 0.22, strokeWidth: 1.9, clip: true})));
  p.series.forEach(([c, , sm]) => marks.push(Plot.line(sm, {x: X, y: Y, stroke: c, strokeWidth: 2.2, clip: true})));
  p.series.forEach(([c, , sm]) => marks.push(Plot.dot([sm[sm.length - 1]], {x: X, y: Y, r: 5, fill: c, stroke: "none"})));
  const svg = Plot.plot({
    width: w + ML + MR, height: h + MT + MB,
    marginLeft: ML, marginRight: MR, marginTop: MT, marginBottom: MB,
    x: {domain: [xGrid[0], xGrid[xGrid.length - 1]]},
    y: {domain: [y0, y1]},
    style: {fontFamily: "'Liberation Sans', Arial, sans-serif", fontSize: "16px", background: "transparent", overflow: "visible"},
    marks
  });
  svg.style.position = "absolute";
  svg.style.left = (p.fl - ML) + "px";
  svg.style.top = (p.ft - MT) + "px";
  document.body.appendChild(svg);

  const t = document.createElement("div");
  t.className = "title"; t.textContent = titles[k];
  t.style.left = p.title[0] + "px"; t.style.top = p.title[1] + "px";
  document.body.appendChild(t);

  const c = document.createElement("div");
  c.className = "cap"; c.textContent = captions[k];
  c.style.left = p.cap[0] + "px"; c.style.top = p.cap[1] + "px";
  document.body.appendChild(c);
});
</script>
</body></html>
